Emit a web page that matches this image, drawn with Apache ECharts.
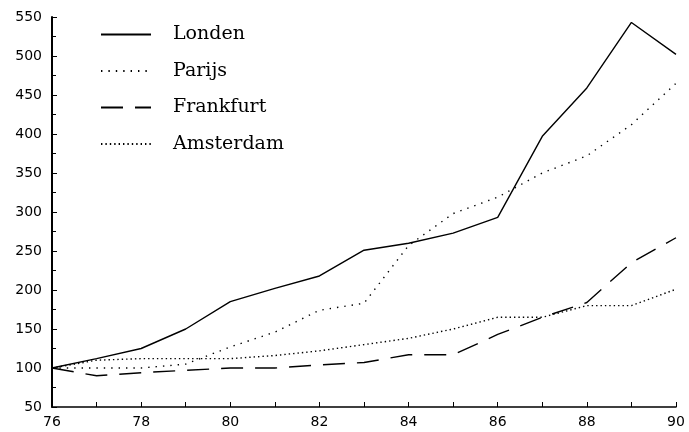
<!DOCTYPE html>
<html><head><meta charset="utf-8">
<script src="https://cdn.jsdelivr.net/npm/echarts@6/dist/echarts.min.js"></script>
<style>html,body{margin:0;padding:0;background:#fff}#c{width:689px;height:432px}</style>
</head><body><div id="c"></div>
<script>
const years = [76,77,78,79,80,81,82,83,84,85,86,87,88,89,90];
const londen    = [100,112,125,150,185,202,218,251,260,273,293,397,459,543,502];
const parijs    = [100,100,100,105,127,146,174,183,257,298,319,350,372,412,465];
const frankfurt = [100,90,94,97,100,100,104,107,117,117,143,165,184,235,267];
const amsterdam = [100,110,112,112,112,116,122,130,138,150,165,165,180,180,201];
const yTicks = [50,100,150,200,250,300,350,400,450,500,550];
const xTicks = [76,78,80,82,84,86,88,90];

const pairs = arr => years.map((y,i)=>[y,arr[i]]);
const chart = echarts.init(document.getElementById('c'));
const mk = (name, arr, type, w) => ({
  name, type:'line', data: pairs(arr), symbol:'none', animation:false,
  itemStyle:{color:'#000', opacity:0},
  lineStyle:{color:'#000', width:w, type, opacity:1}
});
chart.setOption({
  animation:false,
  backgroundColor:'#fff',
  grid:{left:52,right:13,top:17,bottom:25},
  legend:{
    orient:'vertical', left:95, top:20, itemWidth:50, itemHeight:14, itemGap:17.5,
    itemStyle:{opacity:0},
    textStyle:{fontFamily:'DejaVu Serif', fontSize:19, color:'#000', padding:[0,0,0,17]},
    data:['Londen','Parijs','Frankfurt','Amsterdam']
  },
  xAxis:{
    type:'value', min:xTicks[0], max:xTicks[xTicks.length-1], interval:2,
    axisLine:{lineStyle:{color:'#000', width:1.5}},
    axisTick:{inside:true, length:5, lineStyle:{color:'#000'}},
    minorTick:{show:true, splitNumber:2, length:5, lineStyle:{color:'#000'}},
    splitLine:{show:false},
    axisLabel:{color:'#000', fontFamily:'DejaVu Sans', fontSize:14, margin:8}
  },
  yAxis:{
    type:'value', min:yTicks[0], max:yTicks[yTicks.length-1], interval:50,
    axisLine:{show:true, lineStyle:{color:'#000', width:2}},
    axisTick:{show:true, inside:true, length:5, lineStyle:{color:'#000'}},
    minorTick:{show:true, splitNumber:2, length:4, lineStyle:{color:'#000'}},
    splitLine:{show:false},
    axisLabel:{color:'#000', fontFamily:'DejaVu Sans', fontSize:14, margin:10}
  },
  series:[
    mk('Londen', londen, 'solid', 1.4),
    mk('Parijs', parijs, [1.4,6], 1.4),
    mk('Frankfurt', frankfurt, [22,12], 1.4),
    mk('Amsterdam', amsterdam, [1.4,3], 1.4)
  ]
});
</script></body></html>
